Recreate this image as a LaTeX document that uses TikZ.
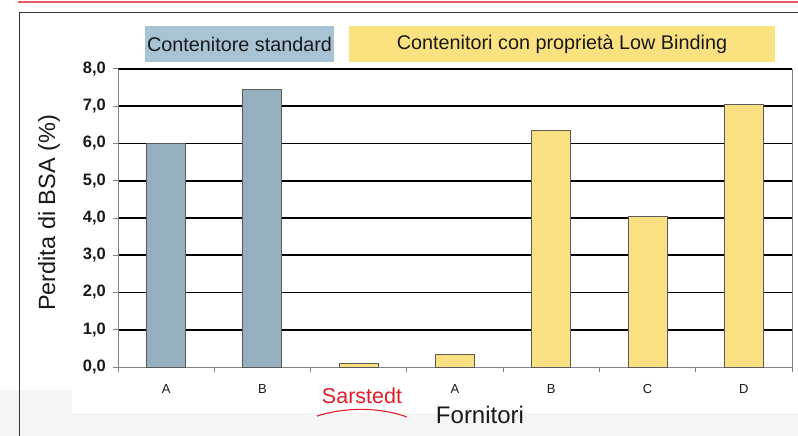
\documentclass[tikz,border=0pt]{standalone}
\usepackage{fontspec}
\setmainfont{Liberation Sans}
\definecolor{barblue}{RGB}{149,175,190}
\definecolor{legblue}{RGB}{168,196,212}
\definecolor{baryel}{RGB}{250,224,128}
\definecolor{legyel}{RGB}{251,225,128}
\definecolor{redline}{RGB}{232,90,100}
\definecolor{sarred}{RGB}{225,30,40}
\definecolor{txt}{RGB}{25,25,25}
\definecolor{axisgray}{RGB}{130,130,130}
\begin{document}
\begin{tikzpicture}[x=1pt,y=-1pt,
  legbox/.style={inner sep=0pt, minimum height=36pt, text=txt, font=\fontsize{19.8}{22}\selectfont},
  ticklab/.style={anchor=east, inner sep=0pt, text=txt, font=\fontsize{16.5}{18}\selectfont\bfseries},
  catlab/.style={inner sep=0pt, text=txt, font=\fontsize{13}{15}\selectfont},
  gridline/.style={black, line width=1.6pt},
  axisline/.style={axisgray, line width=1pt},
  barstyle/.style={draw=black!65, line width=0.9pt}
]
\useasboundingbox (0,0) rectangle (798,436);
\fill[white] (0,0) rectangle (798,436);
\fill[black!4] (0,413) rectangle (798,436);
\fill[black!4] (0,390) rectangle (72,436);
% top lines and frame
\draw[redline, line width=1.2pt] (18,2) -- (798,2);
\draw[black!80, line width=1pt] (798,13) -- (19,13) -- (19,436);
% legend
\node[legbox, fill=legblue, minimum width=189pt] (legstd) at (239.5,44) {Contenitore standard};
\node[legbox, fill=legyel, minimum width=426pt] (leglow) at (562,44) {Contenitori con proprietà Low Binding};
% grid lines and y ticks
\foreach \v in {1,...,8} {
  \draw[gridline] (118,{367-37.25*\v}) -- (792,{367-37.25*\v});
}
\foreach \v in {0,...,8} {
  \draw[axisline] (113,{367-37.25*\v}) -- (118,{367-37.25*\v});
  \node[ticklab] (yt\v) at (106,{367-37.25*\v}) {\v,0};
}
% axes
\draw[axisline] (118,69) -- (118,367) -- (792,367) -- (792,69);
\foreach \k in {0,...,7} {
  \draw[axisline] ({118+96.286*\k},367) -- ({118+96.286*\k},372);
}
% bars
\foreach \i/\val/\col in {0/6.0/barblue, 1/7.45/barblue, 2/0.1/baryel, 3/0.35/baryel, 4/6.35/baryel, 5/4.05/baryel, 6/7.05/baryel} {
  \draw[barstyle, fill=\col] ({118+96.286*(\i+0.5)-19.5},367) rectangle ({118+96.286*(\i+0.5)+19.5},{367-37.25*\val});
}
% category labels
\foreach \i/\lab in {0/A, 1/B, 3/A, 4/B, 5/C, 6/D} {
  \node[catlab] (cat\i) at ({118+96.286*(\i+0.5)},389) {\lab};
}
% Sarstedt annotation
\node[anchor=base, inner sep=0pt, text=sarred, font=\fontsize{21.5}{24}\selectfont] (sar) at (362,403) {Sarstedt};
\coordinate (swl) at (317,416);
\coordinate (swr) at (407,417);
\draw[sarred, line width=1.1pt] (swl) .. controls (345,407) and (380,407) .. (swr);
% axis titles
\node[anchor=base, inner sep=0pt, text=txt, font=\fontsize{24}{27}\selectfont] (xtitle) at (480,423) {Fornitori};
\node[rotate=90, inner sep=0pt, text=txt, font=\fontsize{23.5}{26}\selectfont] (ytitle) at (49,213) {Perdita di BSA (\%)};
\end{tikzpicture}
\end{document}
